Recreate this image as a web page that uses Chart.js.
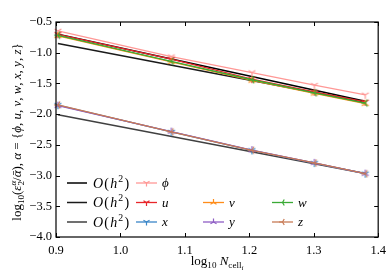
<!DOCTYPE html>
<html lang="en">
<head>
<meta charset="UTF-8">
<title>Convergence of error norms</title>
<script src="https://cdn.jsdelivr.net/npm/chart.js@4"></script>
<style>
  html, body { margin: 0; padding: 0; background: #fff; }
</style>
</head>
<body>
<canvas id="convChart" width="392" height="280"></canvas>
<script>
// log10 of the cell count, one value per run
const logN = [0.903, 1.079, 1.204, 1.301, 1.380];

// reference slopes O(h^2), drawn between the end points
const refX = [0.903, 1.380];
const ref1 = [-0.70, -1.790];
const ref2 = [-0.85, -1.805];
const ref3 = [-2.01, -2.965];

// error norms per variable
const phiErr = [-0.645, -1.063, -1.323, -1.528, -1.685];
const uErr = [-0.700, -1.106, -1.430, -1.636, -1.800];
const vErr = [-0.725, -1.150, -1.452, -1.662, -1.830];
const wErr = [-0.716, -1.140, -1.440, -1.653, -1.820];
const xErr = [-1.855, -2.290, -2.590, -2.797, -2.970];
const yErr = [-1.862, -2.284, -2.586, -2.793, -2.968];
const zErr = [-1.850, -2.288, -2.588, -2.795, -2.970];

const xTicks = [0.9, 1.0, 1.1, 1.2, 1.3, 1.4];
const yTicks = [-0.5, -1.0, -1.5, -2.0, -2.5, -3.0, -3.5, -4.0];

const SERIF = '"Liberation Serif", "DejaVu Serif", serif';

// matplotlib-like tri markers
function triSpokes(dir, r) {
    const s = 0.866 * r, h = 0.5 * r;
    if (dir === 'down') return [[0, r], [-s, -h], [s, -h]];
    if (dir === 'up') return [[0, -r], [-s, h], [s, h]];
    return [[-r, 0], [h, -s], [h, s]]; // left
}
function drawTri(ctx, x, y, r, dir, color) {
    ctx.save();
    ctx.strokeStyle = color;
    ctx.lineWidth = 1.2;
    ctx.beginPath();
    triSpokes(dir, r).forEach(([dx, dy]) => {
        ctx.moveTo(x, y);
        ctx.lineTo(x + dx, y + dy);
    });
    ctx.stroke();
    ctx.restore();
}
function triImage(dir, color) {
    const c = document.createElement('canvas');
    c.width = 10; c.height = 10;
    drawTri(c.getContext('2d'), 5, 5, 4, dir, color);
    return c;
}

// rich text: runs of {t, it, s, dy, noAdv}
function runFont(run, size) {
    return (run.it ? 'italic ' : '') + (size * (run.s || 1)) + 'px ' + SERIF;
}
function runsWidth(ctx, runs, size) {
    let w = 0;
    runs.forEach(r => {
        ctx.font = runFont(r, size);
        if (!r.noAdv) w += ctx.measureText(r.t).width;
    });
    return w;
}
function drawRuns(ctx, runs, x, y, size, align, spacing) {
    ctx.save();
    ctx.fillStyle = '#000';
    ctx.textBaseline = 'alphabetic';
    ctx.textAlign = 'left';
    ctx.letterSpacing = (spacing || 0) + 'px';
    let cx = align === 'center' ? x - runsWidth(ctx, runs, size) / 2 : x;
    runs.forEach(r => {
        ctx.font = runFont(r, size);
        ctx.fillText(r.t, cx, y + (r.dy || 0) * size);
        if (!r.noAdv) cx += ctx.measureText(r.t).width;
    });
    ctx.restore();
}

const yTitle = [
    {t: 'log'}, {t: '10', s: 0.7, dy: 0.25}, {t: '('}, {t: 'ε', it: true},
    {t: 'α', it: true, s: 0.7, dy: -0.4, noAdv: true}, {t: '2', s: 0.7, dy: 0.25},
    {t: '/'}, {t: 'ᾱ', it: true}, {t: '), '}, {t: 'α', it: true}, {t: ' = {'},
    {t: 'ϕ', it: true}, {t: ', '}, {t: 'u', it: true}, {t: ', '}, {t: 'v', it: true},
    {t: ', '}, {t: 'w', it: true}, {t: ', '}, {t: 'x', it: true}, {t: ', '},
    {t: 'y', it: true}, {t: ', '}, {t: 'z', it: true}, {t: '}'}
];
const xTitle = [
    {t: 'log'}, {t: '10', s: 0.7, dy: 0.25}, {t: ' '}, {t: 'N', it: true},
    {t: 'cell', s: 0.7, dy: 0.25}, {t: 'i', it: true, s: 0.55, dy: 0.4}
];
const ohRuns = [
    {t: 'O', it: true}, {t: '('}, {t: 'h', it: true}, {t: '2', s: 0.7, dy: -0.4}, {t: ')'}
];

const refColors = ['#000000', '#1a1a1a', '#404040'];
const series = [
    {name: 'ϕ', data: phiErr, color: '#ff9896', tri: 'down', col: 1, row: 0, order: 7},
    {name: 'u', data: uErr, color: '#e8262a', tri: 'down', col: 1, row: 1, order: 6},
    {name: 'x', data: xErr, color: '#3a86c8', tri: 'down', col: 1, row: 2, order: 5},
    {name: 'v', data: vErr, color: '#ff8c1a', tri: 'up', col: 2, row: 1, order: 4},
    {name: 'y', data: yErr, color: '#8e5ec4', tri: 'up', col: 2, row: 2, order: 3},
    {name: 'w', data: wErr, color: '#3aaa35', tri: 'left', col: 3, row: 1, order: 2},
    {name: 'z', data: zErr, color: '#c87a55', tri: 'left', col: 3, row: 2, order: 1}
];

const datasets = [ref1, ref2, ref3].map((ref, i) => ({
    label: 'O(h2)',
    data: refX.map((x, j) => ({x, y: ref[j]})),
    borderColor: refColors[i],
    borderWidth: 1.5,
    pointRadius: 0,
    order: 10 + i
})).concat(series.map(s => ({
    label: s.name,
    data: logN.map((x, j) => ({x, y: s.data[j]})),
    borderColor: s.color,
    borderWidth: 1.3,
    pointStyle: triImage(s.tri, s.color),
    pointRadius: 4,
    order: s.order
})));

const fmt = v => v.toFixed(1).replace('-', '\u2212');

const decor = {
    id: 'decor',
    afterDraw(chart) {
        const ctx = chart.ctx;
        const a = chart.chartArea;
        const xs = chart.scales.x, ys = chart.scales.y;
        ctx.save();
        ctx.strokeStyle = '#000';
        ctx.lineWidth = 1.2;
        ctx.strokeRect(a.left, a.top, a.right - a.left, a.bottom - a.top);
        // inward ticks on all four sides
        ctx.lineWidth = 1;
        ctx.beginPath();
        xTicks.forEach(v => {
            const p = Math.round(xs.getPixelForValue(v)) + 0.5;
            ctx.moveTo(p, a.bottom); ctx.lineTo(p, a.bottom - 4);
            ctx.moveTo(p, a.top); ctx.lineTo(p, a.top + 4);
        });
        yTicks.forEach(v => {
            const p = Math.round(ys.getPixelForValue(v)) + 0.5;
            ctx.moveTo(a.left, p); ctx.lineTo(a.left + 4, p);
            ctx.moveTo(a.right, p); ctx.lineTo(a.right - 4, p);
        });
        ctx.stroke();

        // legend, 4 columns
        const colX = [67, 136, 203, 272];
        const rowY = [183, 202.5, 222];
        [0, 1, 2].forEach(i => {
            ctx.strokeStyle = refColors[i];
            ctx.lineWidth = 1.5;
            ctx.beginPath();
            ctx.moveTo(colX[0], rowY[i]); ctx.lineTo(colX[0] + 20, rowY[i]);
            ctx.stroke();
            drawRuns(ctx, ohRuns, colX[0] + 26, rowY[i] + 4.5, 14, 'left', 1.2);
        });
        series.forEach(s => {
            const x0 = colX[s.col], y0 = rowY[s.row];
            ctx.strokeStyle = s.color;
            ctx.lineWidth = 1.3;
            ctx.beginPath();
            ctx.moveTo(x0, y0); ctx.lineTo(x0 + 21, y0);
            ctx.stroke();
            drawTri(ctx, x0 + 10.5, y0, 3.5, s.tri, s.color);
            drawRuns(ctx, [{t: s.name, it: true}], x0 + 26, y0 + 4, 13, 'left');
        });

        // axis titles
        drawRuns(ctx, xTitle, (a.left + a.right) / 2, 265, 13, 'center');
        ctx.translate(21, 132);
        ctx.rotate(-Math.PI / 2);
        drawRuns(ctx, yTitle, 0, 0, 13, 'center');
        ctx.restore();
    }
};

new Chart(document.getElementById('convChart').getContext('2d'), {
    type: 'line',
    data: {datasets},
    options: {
        responsive: false,
        animation: false,
        devicePixelRatio: 1,
        layout: {padding: {top: 22, right: 13, left: 0, bottom: 0}},
        elements: {line: {tension: 0, fill: false}},
        datasets: {line: {clip: 6}},
        scales: {
            x: {
                type: 'linear', min: 0.9, max: 1.4,
                afterBuildTicks: s => { s.ticks = xTicks.map(value => ({value})); },
                afterFit: s => { s.height = 43; },
                grid: {display: false, drawTicks: false},
                border: {display: false},
                ticks: {color: '#000', padding: 6, font: {family: SERIF, size: 12.5}, callback: fmt}
            },
            y: {
                type: 'linear', min: -4.0, max: -0.5,
                afterBuildTicks: s => { s.ticks = yTicks.map(value => ({value})); },
                afterFit: s => { s.width = 56; },
                grid: {display: false, drawTicks: false},
                border: {display: false},
                ticks: {color: '#000', padding: 4, font: {family: SERIF, size: 12.5}, callback: fmt}
            }
        },
        plugins: {legend: {display: false}, tooltip: {enabled: false}}
    },
    plugins: [decor]
});
</script>
</body>
</html>
